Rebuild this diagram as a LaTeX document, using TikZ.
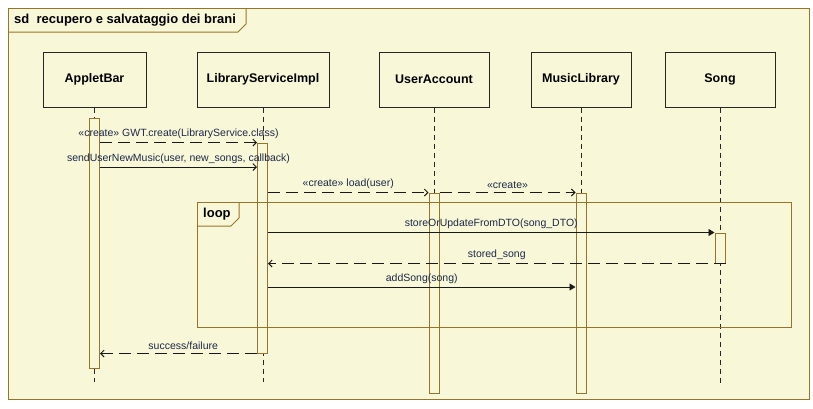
\documentclass[tikz,border=0pt]{standalone}
\usepackage{fontspec}
\setmainfont{Liberation Sans}
\usetikzlibrary{arrows.meta,positioning,calc}

\definecolor{umlbg}{RGB}{248,248,216}
\definecolor{umlframe}{RGB}{150,116,42}
\definecolor{umltext}{RGB}{30,40,72}

\tikzset{
  head/.style={draw=black!85, fill=umlbg, line width=1pt, minimum height=55pt,
    inner sep=0pt, font=\fontsize{12.5}{14}\selectfont\bfseries},
  act/.style={draw=umlframe, fill=umlbg, line width=1pt, minimum width=10pt, inner sep=0pt},
  frameline/.style={draw=umlframe, line width=1pt},
  lifeline/.style={draw=black!85, line width=1pt, dash pattern=on 5pt off 4pt},
  call/.style={draw=black!90, line width=0.9pt, -{Triangle[length=6pt,width=7pt]}},
  async/.style={draw=black!90, line width=0.9pt, -{Straight Barb[length=3.5pt,width=7pt]}},
  reply/.style={async, dash pattern=on 12pt off 6pt},
  lbl/.style={text=umltext, font=\fontsize{10.5}{12}\selectfont, inner sep=1pt, above=2pt}
}

\begin{document}
\begin{tikzpicture}[x=1pt,y=-1pt]
  \useasboundingbox (0,0) rectangle (813,408);
  % diagram frame
  \draw[frameline, fill=umlbg] (8,8) rectangle (809,399);
  \draw[frameline] (8,32) -- (238,32) -- (246,24) -- (246,8);
  \node[anchor=west, font=\fontsize{13}{15}\selectfont\bfseries, inner sep=0pt] (title) at (14,20)
    {sd\ \ recupero e salvataggio dei brani};

  % lifeline heads
  \node[head, minimum width=103pt] (ab) at (94.5,79.5) {AppletBar};
  \node[head, minimum width=132pt] (lsi) at (263,79.5) {LibraryServiceImpl};
  \node[head, minimum width=110pt] (ua) at (434,79.5) {UserAccount};
  \node[head, minimum width=100pt] (ml) at (581,79.5) {MusicLibrary};
  \node[head, minimum width=110pt] (so) at (720,79.5) {Song};

  % lifelines
  \coordinate (abend) at (94.5,382);
  \coordinate (lsiend) at (263,382);
  \coordinate (uaend) at (434,392);
  \coordinate (mlend) at (581,392);
  \coordinate (soend) at (720,383);
  \draw[lifeline] (ab.south) -- (abend);
  \draw[lifeline] (lsi.south) -- (lsiend);
  \draw[lifeline] (ua.south) -- (uaend);
  \draw[lifeline] (ml.south) -- (mlend);
  \draw[lifeline] (so.south) -- (soend);

  % activations
  \node[act, minimum height=250pt, below=10pt of ab] (abact) {};
  \node[act, minimum height=210pt, below=35pt of lsi, xshift=-0.5pt] (lsiact) {};
  \node[act, minimum height=200pt, below=85pt of ua] (uaact) {};
  \node[act, minimum height=200pt, below=85pt of ml] (mlact) {};
  \node[act, minimum height=30pt, below=125pt of so] (soact) {};

  % loop fragment
  \draw[frameline] (197,202) rectangle (791,327);
  \draw[frameline] (197,226) -- (231,226) -- (239,218) -- (239,202);
  \node[anchor=west, font=\fontsize{13}{15}\selectfont\bfseries, inner sep=0pt] (loop) at (203,214) {loop};

  % messages
  \coordinate (m2) at (0,167);
  \coordinate (m7) at (0,287);
  \draw[reply] (abact.east |- lsiact.north) -- (lsiact.north west)
    node[lbl, midway] {«create» GWT.create(LibraryService.class)};
  \draw[async] (abact.east |- m2) -- (lsiact.west |- m2)
    node[lbl, midway] {sendUserNewMusic(user, new\_songs, callback)};
  \draw[reply] (lsiact.east |- uaact.north) -- (uaact.north west)
    node[lbl, midway] {«create» load(user)};
  \draw[reply] (uaact.north east) -- (mlact.north west)
    node[lbl, midway] {«create»};
  \draw[call] (lsiact.east |- soact.north) -- (soact.north west)
    node[lbl, midway] {storeOrUpdateFromDTO(song\_DTO)};
  \draw[reply] (soact.south east) -- (lsiact.east |- soact.south)
    node[lbl, midway] {stored\_song};
  \draw[call] (lsiact.east |- m7) -- (mlact.west |- m7)
    node[lbl, midway] {addSong(song)};
  \draw[reply] (lsiact.south west) -- (abact.east |- lsiact.south)
    node[lbl, pos=0.47] {success/failure};
\end{tikzpicture}
\end{document}
